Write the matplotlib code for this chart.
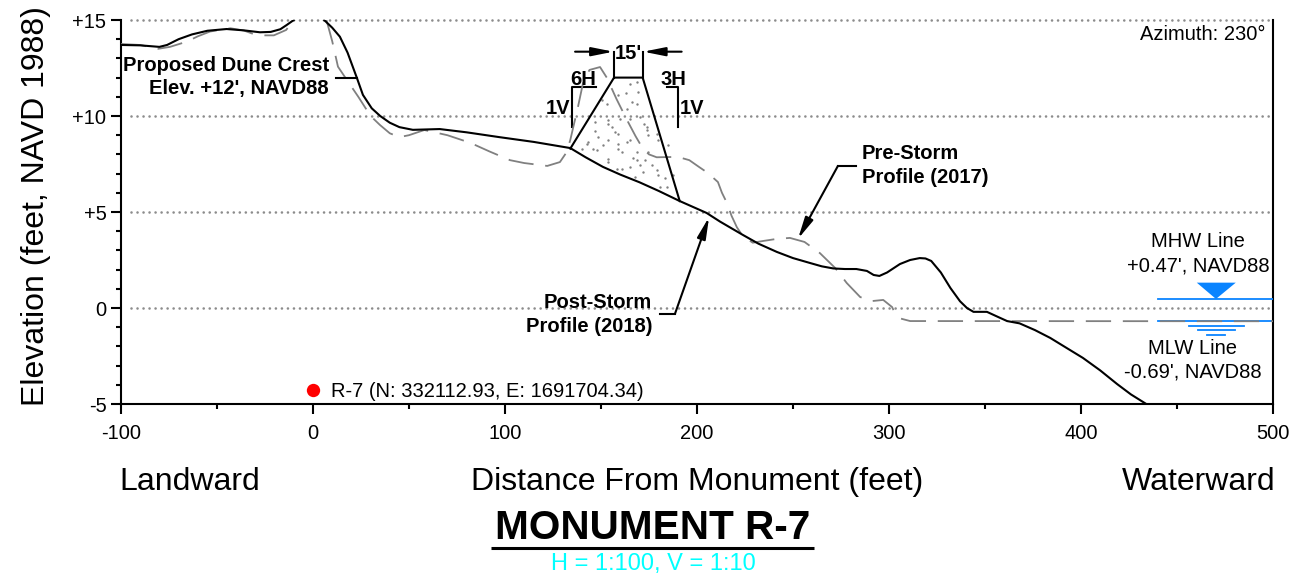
import matplotlib
matplotlib.use('Agg')
import matplotlib.pyplot as plt
import numpy as np

plt.rcParams['font.family'] = ['Liberation Sans', 'DejaVu Sans']
plt.rcParams['axes.unicode_minus'] = False

# Post-storm profile (solid)
post_x = [-100, -90, -80, -76, -70, -63, -55, -45, -36, -27.6, -22, -17, -13.7, -10, np.nan,
          5.8, 10, 14, 18, 22.8, 26, 30.6, 35, 40, 45, 52, 66, 80, 97, 115, 134, 142, 151,
          160, 170, 180, 191, 205, 212, 224, 232, 241.6, 250, 259, 265, 271, 277, 283,
          288.5, 292, 295, 299, 305.7, 311, 316, 319, 322, 327, 332, 337, 340.6, 344,
          351, 356, 361.5, 368, 376, 384, 392, 401, 410, 418.8, 426, 434]
post_y = [13.7, 13.68, 13.6, 13.7, 14.0, 14.25, 14.44, 14.53, 14.46, 14.36, 14.38, 14.52, 14.74, 15, np.nan,
          15, 14.6, 14.13, 13.3, 12, 11.1, 10.4, 10.0, 9.65, 9.42, 9.28, 9.32, 9.15, 8.9, 8.65, 8.33, 7.85, 7.35,
          6.95, 6.55, 6.1, 5.57, 4.95, 4.5, 3.8, 3.35, 2.92, 2.6, 2.34, 2.17, 2.06, 2.03, 2.03,
          1.93, 1.72, 1.67, 1.85, 2.29, 2.5, 2.6, 2.58, 2.45, 1.85, 1.04, 0.35, 0, -0.2,
          -0.2, -0.43, -0.68, -0.8, -1.15, -1.56, -2.05, -2.6, -3.25, -3.96, -4.5, -5]

# Pre-storm profile (dashed)
pre_x = [-100, -90, -80.6, -74.5, -65.8, -60, -53.6, -43, -36, -31, -25, -20.4, -14, -10, np.nan,
         7, 10, 13, 17.7, 23.6, 30, 34.9, 40, 45, 50, 58, 70, 82, 92, 102.6, 110, 122, 128.6,
         132, 134, 138, 140.6, 144, 149.5, 153, 158, 163.5, 168, 171.8, 175, 179, 190, 196,
         201, 205.7, 210.9, 213, 215.6, 218, 220.8, 223.5, 229, 235, 241.6, 248.4, 256, 264,
         272, 278, 285, 291, 297, 301.6, 303, 305.7, 311, 500]
pre_y = [13.75, 13.7, 13.5, 13.6, 13.87, 14.15, 14.4, 14.57, 14.45, 14.27, 14.2, 14.2, 14.48, 15, np.nan,
         15, 13.9, 12.57, 11.87, 11, 10, 9.53, 9.1, 8.9, 9.0, 9.27, 9.0, 8.6, 8.15, 7.7, 7.55, 7.4, 7.6,
         8.1, 8.75, 10.47, 11.7, 12.4, 12.55, 12.0, 10.9, 9.8, 8.95, 8.3, 8.0, 7.85, 7.87, 7.7,
         7.35, 7.03, 6.56, 6.0, 5.47, 4.8, 4.2, 3.8, 3.4, 3.5, 3.6, 3.65, 3.44, 2.86,
         2.08, 1.3, 0.57, 0.36, 0.42, 0.05, -0.25, -0.54, -0.68, -0.69]

# Proposed dune section
dune_x = [134, 156.8, 171.7, 191]
dune_y = [8.3, 12, 12, 5.57]

# Sand stipple inside the dune
sand_x = [165.1, 168.6, 159.0, 162.8, 169.1, 153.0, 150.7, 166.0, 168.6, 163.4,
          146.9, 153.8, 153.5, 159.9, 165.1, 170.3, 172.6, 173.8, 155.6, 157.3,
          159.0, 146.9, 173.8, 174.7, 179.0, 179.5, 148.6, 153.8, 151.2, 143.4,
          142.5, 146.0, 147.7, 139.9, 159.0, 163.4, 165.1, 159.0, 160.8, 168.6,
          174.7, 153.5, 153.8, 166.8, 168.6, 172.9, 170.3, 158.2, 160.8, 165.1,
          167.7, 179.0, 179.9, 183.3, 180.7, 184.2, 187.7, 172.0, 176.4, 185.1]
sand_y = [11.68, 11.77, 11.07, 11.21, 11.25, 10.64, 10.81, 10.73, 10.61, 10.38,
          9.69, 9.77, 9.6, 9.86, 9.86, 9.95, 9.6, 9.43, 9.43, 9.17,
          9.08, 9.2, 9.25, 8.99, 9.08, 8.73, 8.9, 8.73, 8.47, 8.64,
          8.56, 8.3, 8.21, 8.3, 8.56, 8.64, 8.73, 8.26, 8.12, 8.12,
          8.12, 7.74, 7.6, 7.81, 7.69, 7.69, 7.43, 7.22, 7.26, 7.34,
          6.82, 7.17, 6.91, 6.77, 6.3, 6.3, 6.91, 7.08, 7.43, 8.47]

grid_levels = [15, 10, 5, 0]
y_ticks = [-5, 0, 5, 10, 15]
y_tick_labels = ['-5', '0', '+5', '+10', '+15']
x_ticks = [-100, 0, 100, 200, 300, 400, 500]

mhw = 0.47
mlw = -0.69
monument_x = 0
monument_y = -4.27

W, H = 1291, 579
BLUE = '#0a84ff'
GRAY = '#808080'


# Text placed by reference pixel position
def label(x, y, s, size=14.5, weight='normal', ha='center', color='black'):
    fig.text(x / W, 1 - (y + 0.12 * size) / H, s, fontsize=size, fontweight=weight, ha=ha,
             va='center', color=color)


fig = plt.figure(figsize=(W / 100, H / 100), dpi=100)
ax = fig.add_axes([121 / W, 1 - 404 / H, (1273 - 121) / W, (404 - 20) / H])
ax.set_xlim(-100, 500)
ax.set_ylim(-5, 15)

# Dotted elevation lines
for lev in grid_levels:
    ax.plot([-95, 499], [lev, lev], color='#8c8c8c', lw=1.9, ls=(0, (0.01, 2.27)),
            dash_capstyle='round', clip_on=False, zorder=1)

# Dune stipple
ax.scatter(sand_x, sand_y, s=3, color='#808080', linewidths=0, zorder=2)

# Profiles
ax.plot(pre_x, pre_y, color=GRAY, lw=1.3, ls=(0, (14, 6.5)), zorder=3)
ax.plot(post_x, post_y, color='black', lw=1.5, zorder=4)
ax.plot(dune_x, dune_y, color='black', lw=1.5, zorder=4)

# Crest width dimension
ax.plot([156.8, 156.8], [12, 13.35], color='black', lw=1.5)
ax.plot([171.7, 171.7], [12, 13.35], color='black', lw=1.5)
arrow_style = dict(arrowstyle='-|>,head_length=1.0,head_width=0.2', mutation_scale=13,
                   color='black', lw=1.5, shrinkA=0, shrinkB=0)
ax.annotate('', xy=(156.5, 13.35), xytext=(136.5, 13.35), arrowprops=arrow_style)
ax.annotate('', xy=(172, 13.35), xytext=(192, 13.35), arrowprops=arrow_style)

# Slope brackets
ax.plot([147.2, 134.7, 134.7], [11.49, 11.49, 9.44], color='black', lw=1.5)
ax.plot([184.2, 190.3, 190.3], [11.49, 11.49, 9.44], color='black', lw=1.5)

# Leaders
ax.plot([12, 22.8], [12, 12], color='black', lw=1.5, zorder=5)
ax.plot([180.7, 188.5], [-0.31, -0.31], color='black', lw=1.5)
ax.annotate('', xy=(206.3, 4.74), xytext=(188.5, -0.31), arrowprops=arrow_style)
ax.plot([282.8, 273.4], [7.4, 7.4], color='black', lw=1.5)
ax.annotate('', xy=(252.6, 3.6), xytext=(273.4, 7.4), arrowprops=arrow_style)

# Water levels
ax.plot([440, 500], [mhw, mhw], color=BLUE, lw=1.3, zorder=3)
ax.fill([460.3, 480.6, 470.3], [1.32, 1.32, mhw], color=BLUE, lw=0, zorder=3)
ax.plot([440, 500], [mlw, mlw], color=BLUE, lw=1.3, zorder=2)
ax.plot([456, 485], [-0.92, -0.92], color=BLUE, lw=1.3)
ax.plot([461, 480], [-1.16, -1.16], color=BLUE, lw=1.3)
ax.plot([465.7, 475], [-1.39, -1.39], color=BLUE, lw=1.3)

# Monument
ax.plot([monument_x], [monument_y], 'o', color='#ff0000', ms=9.6, mew=0, zorder=6)

# Axes
ax.spines['top'].set_visible(False)
for side in ['left', 'bottom', 'right']:
    ax.spines[side].set_linewidth(1.5)
ax.set_xticks(x_ticks)
ax.set_xticks([-50, 50, 150, 250, 350, 450], minor=True)
ax.set_yticks(y_ticks)
ax.set_yticklabels(y_tick_labels)
ax.set_yticks([v for v in range(-5, 16) if v % 5 != 0], minor=True)
ax.tick_params(axis='both', which='major', length=7.5, width=1.5, labelsize=14.5, pad=3)
ax.tick_params(axis='both', which='minor', length=3.5, width=1.5)
ax.tick_params(axis='x', which='major', pad=7)

# Annotations
label(1203, 33, 'Azimuth: 230°')
label(329, 64, 'Proposed Dune Crest', weight='bold', ha='right')
label(329, 87, "Elev. +12', NAVD88", weight='bold', ha='right')
label(628, 52, "15'", weight='bold')
label(583, 78, '6H', weight='bold')
label(673, 78, '3H', weight='bold')
label(558, 107, '1V', weight='bold')
label(692, 107, '1V', weight='bold')
label(862, 152, 'Pre-Storm', weight='bold', ha='left')
label(862, 176, 'Profile (2017)', weight='bold', ha='left')
label(652, 301, 'Post-Storm', weight='bold', ha='right')
label(652, 325, 'Profile (2018)', weight='bold', ha='right')
label(1198, 240, 'MHW Line')
label(1198, 264, "+0.47', NAVD88")
label(1193, 347, 'MLW Line')
label(1193, 370, "-0.69', NAVD88")
label(331, 390, 'R-7 (N: 332112.93, E: 1691704.34)', ha='left')

# Outer titles
fig.text(36 / W, 1 - 206 / H, 'Elevation (feet, NAVD 1988)', fontsize=23, rotation=90,
         ha='center', va='center')
label(119, 479, 'Landward', size=23, ha='left')
label(697, 479, 'Distance From Monument (feet)', size=23)
label(1275, 479, 'Waterward', size=23, ha='right')
label(653, 524, 'MONUMENT R-7', size=29.2, weight='bold')
fig.add_artist(plt.Line2D([491 / W, 814 / W], [1 - 547.5 / H, 1 - 547.5 / H], color='black',
                          lw=2.2, solid_capstyle='butt'))
label(653, 562, 'H = 1:100, V = 1:10', size=17, color='#00ffff')

fig.savefig('out.png', dpi=100)
